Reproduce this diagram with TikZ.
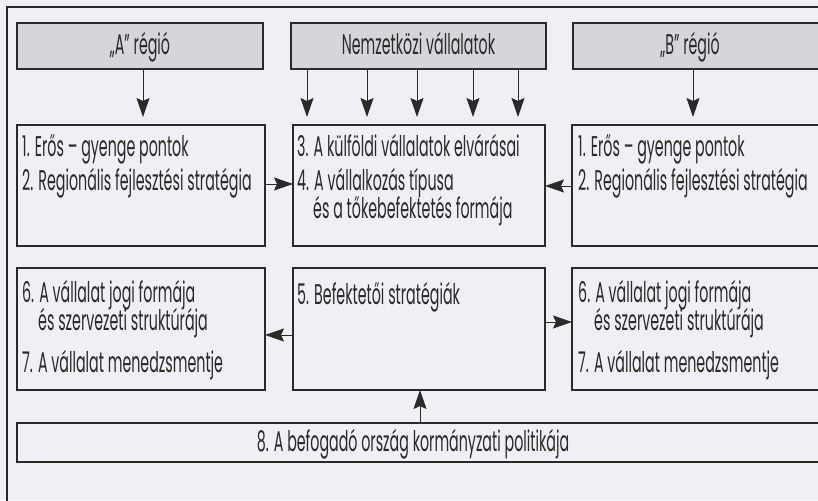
\documentclass[tikz,border=0pt]{standalone}
\usepackage{fontspec}
\setmainfont{Poppins}[FakeStretch=0.5]
\usetikzlibrary{arrows.meta}
\definecolor{bgc}{HTML}{EFEFF4}
\definecolor{inkc}{HTML}{2A2A2A}
\definecolor{hdrc}{HTML}{D6D6DA}
\tikzset{
  box/.style={draw=inkc, line width=1.3pt, rectangle, inner sep=0pt, outer sep=0pt},
  hdr/.style={box, fill=hdrc},
  txt/.style={anchor=base west, inner sep=0pt, text=inkc, font=\fontsize{28.5}{30}\selectfont},
  ctxt/.style={txt, anchor=base},
  arr/.style={draw=inkc, line width=1pt, -{Stealth[length=19pt,width=13pt,inset=3pt]}},
}
\begin{document}
\begin{tikzpicture}[x=1pt,y=-1pt]
\useasboundingbox (0,0) rectangle (818,500);
\fill[bgc] (0,0) rectangle (818,500);
\clip (0,0) rectangle (818,500);
% outer frame
\draw[inkc, line width=1.3pt] (7,520) -- (7,7) -- (830,7);
% header boxes
\node[hdr, minimum width=246, minimum height=46] (tA) at (140,46) {};
\node[hdr, minimum width=255, minimum height=46] (tN) at (418.5,46) {};
\node[hdr, minimum width=257, minimum height=46] (tB) at (701.5,46) {};
\node[ctxt] (tAt) at (140,55) {„A” régió};
\node[ctxt] (tNt) at (418.5,55) {Nemzetközi vállalatok};
\node[ctxt] (tBt) at (690,55) {„B” régió};
% row 1
\node[box, minimum width=248, minimum height=121] (r1L) at (141,185.5) {};
\node[box, minimum width=252, minimum height=121] (r1M) at (419,185.5) {};
\node[box, minimum width=258, minimum height=121] (r1R) at (701,185.5) {};
% row 2
\node[box, minimum width=248, minimum height=122] (r2L) at (141,329) {};
\node[box, minimum width=252, minimum height=122] (r2M) at (419,329) {};
\node[box, minimum width=258, minimum height=122] (r2R) at (701,329) {};
% bottom
\node[box, minimum width=813, minimum height=39] (b8) at (423.5,442.5) {};
% texts row 1
\node[txt] (t1L1) at (22,156) {1. Erős – gyenge pontok};
\node[txt] (t1L2) at (22,190) {2. Regionális fejlesztési stratégia};
\node[txt] (t1M1) at (297,156) {3. A külföldi vállalatok elvárásai};
\node[txt] (t1M2) at (297,190) {4. A vállalkozás típusa};
\node[txt] (t1M3) at (313,218) {és a tőkebefektetés formája};
\node[txt] (t1R1) at (578,156) {1. Erős – gyenge pontok};
\node[txt] (t1R2) at (578,190) {2. Regionális fejlesztési stratégia};
% texts row 2
\node[txt] (t2L1) at (22,302) {6. A vállalat jogi formája};
\node[txt] (t2L2) at (38,330) {és szervezeti struktúrája};
\node[txt] (t2L3) at (22,372) {7. A vállalat menedzsmentje};
\node[txt] (t2M1) at (297,304) {5. Befektetői stratégiák};
\node[txt] (t2R1) at (578,302) {6. A vállalat jogi formája};
\node[txt] (t2R2) at (594,330) {és szervezeti struktúrája};
\node[txt] (t2R3) at (578,372) {7. A vállalat menedzsmentje};
\node[ctxt] (b8t) at (413,451) {8. A befogadó ország kormányzati politikája};
% vertical arrows
\draw[arr, shorten >=8pt] (tA.south -| 143,0) -- (r1L.north -| 143,0);
\foreach \xx in {307,367,417,473,518}{
  \draw[arr, shorten >=8pt] (tN.south -| \xx,0) -- (r1M.north -| \xx,0);
}
\draw[arr, shorten >=8pt] (tB.south -| 693,0) -- (r1R.north -| 693,0);
% horizontal arrows
\draw[arr] (r1L.east |- 0,184) -- (r1M.west |- 0,184);
\draw[arr] (r1R.west |- 0,186) -- (r1M.east |- 0,186);
\draw[arr] (r2M.west |- 0,335) -- (r2L.east |- 0,335);
\draw[arr] (r2M.east |- 0,322) -- (r2R.west |- 0,322);
\draw[arr] (b8.north -| 420,0) -- (r2M.south -| 420,0);
\end{tikzpicture}
\end{document}
